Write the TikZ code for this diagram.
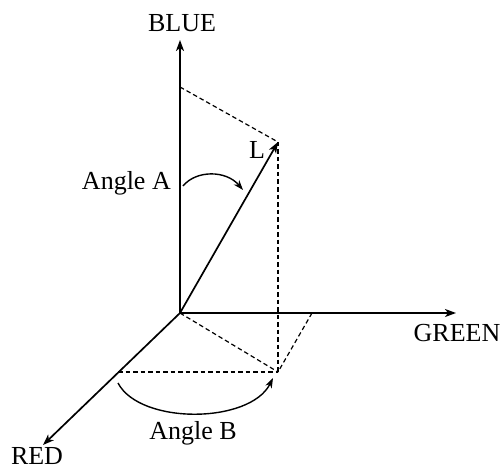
\documentclass[tikz,border=0pt]{standalone}
\usepackage{fontspec}
\setmainfont{Liberation Serif}
\usetikzlibrary{arrows.meta}
\begin{document}
\begin{tikzpicture}[x=1pt,y=-1pt,
  axis/.style={line width=1.7pt,-{Stealth[length=11pt,width=8pt,inset=3pt]}},
  guide/.style={line width=1.2pt,dash pattern=on 4.5pt off 3pt},
  anglearc/.style={line width=1.4pt,-{Stealth[length=10pt,width=7pt,inset=3pt]}},
  lab/.style={font=\fontsize{26}{30}\selectfont,inner sep=0pt}]
\useasboundingbox (0,0) rectangle (502,470);
\coordinate (O) at (180,313);
\coordinate (Btop) at (180,40);
\coordinate (Gtip) at (456,313);
\coordinate (Rtip) at (43,445);
\coordinate (Lt) at (278,142);
\coordinate (Bp) at (180,87);
\coordinate (Gp) at (312,313);
\coordinate (Rp) at (118,372);
\coordinate (P) at (278,372);
\coordinate (a1) at (183,186);
\coordinate (a2) at (243,190);
\coordinate (b1) at (118,383);
\coordinate (b2) at (273,378);
% guides
\draw[guide] (Bp) -- (Lt);
\draw[guide] (Lt) -- (P);
\draw[guide] (O) -- (P);
\draw[guide] (Rp) -- (P);
\draw[guide] (Gp) -- (P);
% axes
\draw[axis] (O) -- (Btop);
\draw[axis] (O) -- (Gtip);
\draw[axis] (O) -- (Rtip);
\draw[axis] (O) -- (Lt);
% angle arcs
\draw[anglearc] (a1) .. controls (196,170) and (226,170) .. (a2);
\draw[anglearc] (b1) .. controls (140,425) and (250,424) .. (b2);
% labels
\node[lab] (blue) at (182,23) {BLUE};
\node[lab] (green) at (457,333) {GREEN};
\node[lab] (red) at (37,456) {RED};
\node[lab] (L) at (257,150) {L};
\node[lab,anchor=east] (angA) at (171,183) {Angle A};
\node[lab] (angB) at (193,433) {Angle B};
\end{tikzpicture}
\end{document}
